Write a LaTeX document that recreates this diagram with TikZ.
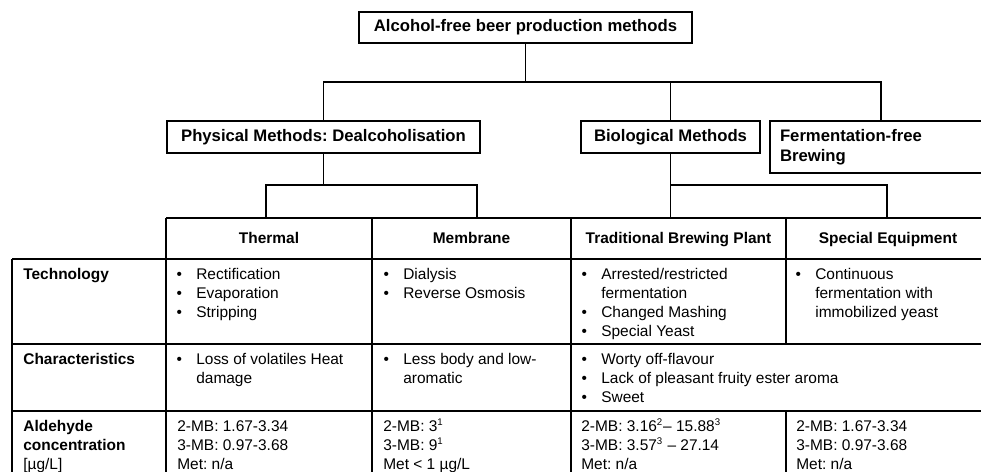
\documentclass[tikz,border=0pt]{standalone}
\usepackage{fontspec}
\setmainfont{Liberation Sans}
\usepackage{tikz}
\frenchspacing

\tikzset{
  box/.style={draw, line width=1.1pt, inner sep=0pt, align=center,
              font=\fontsize{9.5}{11.4}\selectfont\bfseries},
  link/.style={line width=0.6pt},
  grid/.style={line width=0.75pt},
  cell/.style={anchor=base west, inner sep=0pt, font=\fontsize{8.8}{10.8}\selectfont},
  head/.style={anchor=base, inner sep=0pt, font=\fontsize{8.8}{10.8}\selectfont\bfseries}
}
\newcommand{\blist}[1]{\begin{tabular}[t]{@{}p{11.2pt}@{}l@{}}#1\end{tabular}}
\newcommand{\tlist}[1]{\begin{tabular}[t]{@{}l@{}}#1\end{tabular}}
\newcommand{\refno}[1]{\smash{\textsuperscript{\fontsize{5.5}{6}\selectfont #1}}}

\begin{document}
\begin{tikzpicture}[x=0.02cm, y=-0.02cm]
        \useasboundingbox (0,0) rectangle (981,472);
        \fill[white] (0,0) rectangle (981,472);
        \clip (0,0) rectangle (981,472);

        % ---- method boxes -------------------------------
        \node[box, minimum width=6.66cm, minimum height=0.62cm] (title) at (525.5,27.5)
          {Alcohol-free beer production methods};
        \node[box, minimum width=6.26cm, minimum height=0.64cm] (physical) at (323.5,137)
          {Physical Methods: Dealcoholisation};
        \node[box, minimum width=3.58cm, minimum height=0.64cm] (biological) at (670.5,137)
          {Biological Methods};
        \node[box, minimum height=1.04cm, text width=4.04cm, inner xsep=0.2cm, align=left]
          (ffree) at (881,147) {Fermentation-free\\Brewing};

        % ---- tree connectors ----------------------------
        \coordinate (branch) at (525.5,82);
        \coordinate (pjoin) at (323.5,185);
        \coordinate (bjoin) at (670.5,185);
        \coordinate (thtop) at (266,218);
        \coordinate (metop) at (477,218);
        \coordinate (trtop) at (670.5,218);
        \coordinate (sptop) at (887,218);
        \draw[link] (title.south) -- (branch);
        \draw[link] (physical.north) |- (branch) -| (ffree.north);
        \draw[link] (biological.north) -- (biological.north |- branch);
        \draw[link] (physical.south) -- (pjoin);
        \draw[link] (thtop) |- (pjoin) -| (metop);
        \draw[link] (biological.south) -- (trtop);
        \draw[link] (bjoin) -| (sptop);

        % ---- table grid ---------------------------------
        \draw[grid] (166,218) -- (1000,218);
        \draw[grid] (12,259) -- (1000,259);
        \draw[grid] (12,344) -- (1000,344);
        \draw[grid] (12,411) -- (1000,411);
        \draw[grid] (12,259) -- (12,480);
        \foreach \x in {166,372,571}
          \draw[grid] (\x,218) -- (\x,480);
        \draw[grid] (786,218) -- (786,344);
        \draw[grid] (786,411) -- (786,480);

        % ---- column heads -------------------------------
        \node[head] (hthermal) at (269,244) {Thermal};
        \node[head] (hmembrane) at (471.5,244) {Membrane};
        \node[head] (htrad) at (678.5,244) {Traditional Brewing Plant};
        \node[head] (hspecial) at (888,244) {Special Equipment};

        % ---- row labels ---------------------------------
        \node[cell, font=\fontsize{8.8}{10.8}\selectfont\bfseries] (ltech) at (23,280) {Technology};
        \node[cell, font=\fontsize{8.8}{10.8}\selectfont\bfseries] (lchar) at (23,365) {Characteristics};
        \node[cell] (lald) at (23,432)
          {\tlist{\textbf{Aldehyde}\\ \textbf{concentration}\\ {[µg/L]}}};

        % ---- technology row -----------------------------
        \node[cell] (tthermal) at (176.3,280)
          {\blist{\textbullet & Rectification\\ \textbullet & Evaporation\\ \textbullet & Stripping}};
        \node[cell] (tmembrane) at (383.3,280)
          {\blist{\textbullet & Dialysis\\ \textbullet & Reverse Osmosis}};
        \node[cell] (ttrad) at (581.3,280)
          {\blist{\textbullet & Arrested/restricted\\ & fermentation\\ \textbullet & Changed Mashing\\ \textbullet & Special Yeast}};
        \node[cell] (tspecial) at (795.3,280)
          {\blist{\textbullet & Continuous\\ & fermentation with\\ & immobilized yeast}};

        % ---- characteristics row ------------------------
        \node[cell] (cthermal) at (176.3,365)
          {\blist{\textbullet & Loss of volatiles Heat\\ & damage}};
        \node[cell] (cmembrane) at (383.3,365)
          {\blist{\textbullet & Less body and low-\\ & aromatic}};
        \node[cell] (cbio) at (581.3,365)
          {\blist{\textbullet & Worty off-flavour\\ \textbullet & Lack of pleasant fruity ester aroma\\ \textbullet & Sweet}};

        % ---- aldehyde row -------------------------------
        \node[cell] (athermal) at (177,432)
          {\tlist{2-MB: 1.67-3.34\\ 3-MB: 0.97-3.68\\ Met: n/a}};
        \node[cell] (amembrane) at (383,432)
          {\tlist{2-MB: 3\refno{1}\\ 3-MB: 9\refno{1}\\ Met < 1 µg/L}};
        \node[cell] (atrad) at (581,432)
          {\tlist{2-MB: 3.16\refno{2}-- 15.88\refno{3}\\ 3-MB: 3.57\refno{3} -- 27.14\\ Met: n/a}};
        \node[cell] (aspecial) at (796,432)
          {\tlist{2-MB: 1.67-3.34\\ 3-MB: 0.97-3.68\\ Met: n/a}};
    \end{tikzpicture}
\end{document}
